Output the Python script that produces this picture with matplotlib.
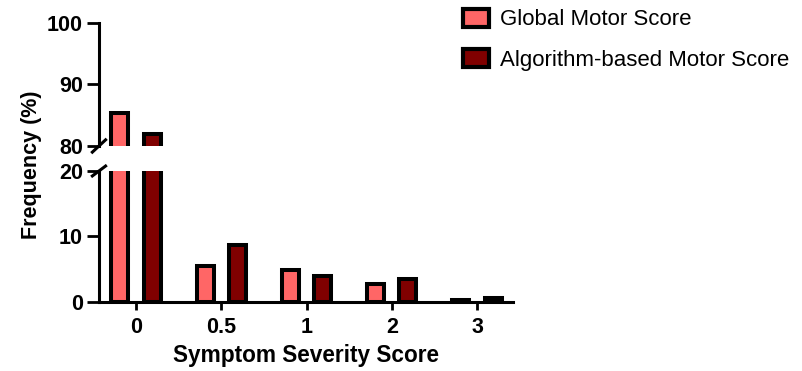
import numpy as np
import matplotlib.pyplot as plt
from matplotlib.patches import Patch

plt.rcParams['font.family'] = ['Liberation Sans', 'DejaVu Sans']

# Data
categories = ['0', '0.5', '1', '2', '3']
global_motor = [85.3, 5.5, 4.8, 2.7, 0.25]
algorithm_motor = [81.9, 8.6, 3.9, 3.5, 0.5]
series_names = ['Global Motor Score', 'Algorithm-based Motor Score']
colors = ['#ff6666', '#800000']

x = np.arange(len(categories))
w = 0.2
off = 0.19
lw = 2.9

fig = plt.figure(figsize=(8.02, 3.71), dpi=100)
ax_top = fig.add_axes([0.1234, 0.6065, 0.516, 0.3315])
ax_bot = fig.add_axes([0.1234, 0.1868, 0.516, 0.3523])

for ax in (ax_top, ax_bot):
    ax.bar(x - off, global_motor, w, color=colors[0], edgecolor='black', linewidth=lw)
    ax.bar(x + off, algorithm_motor, w, color=colors[1], edgecolor='black', linewidth=lw)
    ax.set_xlim(-0.435, 4.42)
    for s in ['top', 'right']:
        ax.spines[s].set_visible(False)
    ax.spines['left'].set_linewidth(2.2)
    ax.spines['bottom'].set_linewidth(2.2)
    ax.tick_params(axis='y', length=8.5, width=2, labelsize=15.5, pad=3)

ax_top.set_ylim(80, 100)
ax_top.set_yticks([80, 90, 100])
ax_top.spines['bottom'].set_visible(False)
ax_top.set_xticks([])

ax_bot.set_ylim(0, 20)
ax_bot.set_yticks([0, 10, 20])
ax_bot.set_xticks(x)
ax_bot.set_xticklabels(categories)
ax_bot.tick_params(axis='x', length=6, width=2, labelsize=15.5, pad=5)

for ax in (ax_top, ax_bot):
    for lab in ax.get_yticklabels() + ax.get_xticklabels():
        lab.set_fontweight('bold')

ax_bot.set_xlabel('Symptom Severity Score', fontsize=16.3, fontweight='bold', labelpad=4)
fig.text(32 / 802, 1 - 165 / 371, 'Frequency (%)', rotation=90, fontsize=15.5,
         fontweight='bold', ha='center', va='center')

# Break marks on the y axis
dx = 0.016
ax_top.plot([-dx, dx], [-0.05, 0.05], color='black', lw=2.2, transform=ax_top.transAxes, clip_on=False)
ax_bot.plot([-dx, dx], [0.962, 1.038], color='black', lw=2.2, transform=ax_bot.transAxes, clip_on=False)

handles = [Patch(facecolor=colors[i], edgecolor='black', linewidth=3) for i in range(2)]
fig.legend(handles, series_names, loc='upper left', bbox_to_anchor=(443 / 802, 1.03),
           frameon=False, fontsize=16, handlelength=1.15, handleheight=0.85,
           handletextpad=0.5, labelspacing=0.85)

fig.savefig('out.png', dpi=100)
